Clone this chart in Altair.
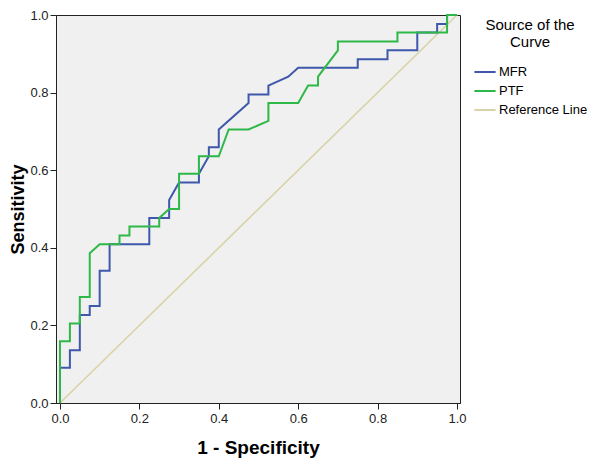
import altair as alt
import pandas as pd

# ROC curve points (1 - specificity, sensitivity)
mfr_fpr = [0.0, 0.0, 0.025, 0.025, 0.05, 0.05, 0.075, 0.075, 0.1, 0.1, 0.125, 0.125,
           0.225, 0.225, 0.275, 0.275, 0.3, 0.35, 0.35, 0.375, 0.375, 0.4, 0.4,
           0.475, 0.475, 0.525, 0.525, 0.575, 0.6, 0.75, 0.75, 0.825, 0.825,
           0.9, 0.9, 0.95, 0.95, 0.975, 0.975, 1.0]
mfr_tpr = [0.0, 0.091, 0.091, 0.136, 0.136, 0.227, 0.227, 0.25, 0.25, 0.341, 0.341, 0.409,
           0.409, 0.477, 0.477, 0.523, 0.568, 0.568, 0.591, 0.636, 0.659, 0.659, 0.705,
           0.773, 0.795, 0.795, 0.818, 0.841, 0.864, 0.864, 0.886, 0.886, 0.909,
           0.909, 0.955, 0.955, 0.977, 0.977, 1.0, 1.0]

ptf_fpr = [0.0, 0.0, 0.025, 0.025, 0.05, 0.05, 0.075, 0.075, 0.1, 0.15, 0.15, 0.175,
           0.175, 0.25, 0.25, 0.275, 0.3, 0.3, 0.35, 0.35, 0.4, 0.425, 0.475, 0.525,
           0.525, 0.6, 0.625, 0.65, 0.65, 0.7, 0.7, 0.85, 0.85, 0.975, 0.975, 1.0]
ptf_tpr = [0.0, 0.159, 0.159, 0.205, 0.205, 0.273, 0.273, 0.386, 0.409, 0.409, 0.432, 0.432,
           0.455, 0.455, 0.477, 0.5, 0.5, 0.591, 0.591, 0.636, 0.636, 0.705, 0.705, 0.727,
           0.773, 0.773, 0.818, 0.818, 0.841, 0.909, 0.932, 0.932, 0.955, 0.955, 1.0, 1.0]

ref_fpr = [0.0, 1.0]
ref_tpr = [0.0, 1.0]

series_names = ["MFR", "PTF", "Reference Line"]
series_colors = ["#3E58AC", "#2EB848", "#D8D3A6"]
tick_values = [0.0, 0.2, 0.4, 0.6, 0.8, 1.0]

rows = []
for name, xs, ys in [("Reference Line", ref_fpr, ref_tpr),
                     ("MFR", mfr_fpr, mfr_tpr),
                     ("PTF", ptf_fpr, ptf_tpr)]:
    for i, (a, b) in enumerate(zip(xs, ys)):
        rows.append({"series": name, "fpr": a, "tpr": b, "idx": i})
df = pd.DataFrame(rows)

FONT = "Liberation Sans"

color = alt.Color(
    "series:N",
    scale=alt.Scale(domain=series_names, range=series_colors),
    legend=alt.Legend(
        title=["Source of the", "Curve"],
        orient="none",
        legendX=417,
        legendY=3,
        symbolType="stroke",
        symbolSize=450,
        symbolStrokeWidth=2,
        labelOffset=2,
        rowPadding=0,
        labelFontSize=13,
        labelFont=FONT,
        labelColor="#000000",
        titleFont=FONT,
        titleFontSize=15,
        titleFontWeight="normal",
        titleColor="#000000",
        titleAlign="center",
        titleAnchor="middle",
        titleLineHeight=17,
        titlePadding=10,
        padding=0,
    ),
)

x = alt.X(
    "fpr:Q",
    scale=alt.Scale(domain=[-0.01, 1.0076], nice=False, zero=False),
    axis=alt.Axis(
        values=tick_values, format=".1f", title="1 - Specificity",
        titleFontSize=19, titleFontWeight="bold", titlePadding=13,
        labelFontSize=13, tickSize=6, labelPadding=3,
    ),
)
y = alt.Y(
    "tpr:Q",
    scale=alt.Scale(domain=[0, 1], nice=False),
    axis=alt.Axis(
        values=tick_values, format=".1f", title="Sensitivity",
        titleFontSize=18, titleFontWeight="bold", titlePadding=2,
        labelFontSize=13, tickSize=6, labelPadding=2,
    ),
)

base = alt.Chart(df)
ref = base.transform_filter(alt.datum.series == "Reference Line").mark_line(
    strokeWidth=1.6).encode(x=x, y=y, color=color, order="idx:Q")
mfr = base.transform_filter(alt.datum.series == "MFR").mark_line(
    strokeWidth=2).encode(x=x, y=y, color=color, order="idx:Q")
ptf = base.transform_filter(alt.datum.series == "PTF").mark_line(
    strokeWidth=2).encode(x=x, y=y, color=color, order="idx:Q")

chart = (
    alt.layer(ref, mfr, ptf)
    .properties(
        width=404,
        height=388,
        autosize=alt.AutoSizeParams(type="none"),
        padding={"left": 48, "top": 7, "right": 132, "bottom": 55},
        background="#ffffff",
    )
    .configure_view(fill="#F0F0F0", stroke="#222222", strokeWidth=1)
    .configure_axis(
        grid=False,
        labelFont=FONT,
        titleFont=FONT,
        labelColor="#222222",
        titleColor="#000000",
        domainColor="#222222",
        tickColor="#222222",
        domainWidth=1,
        tickWidth=1,
    )
)

chart.save("out.html", embed_options={"renderer": "svg", "actions": False})
